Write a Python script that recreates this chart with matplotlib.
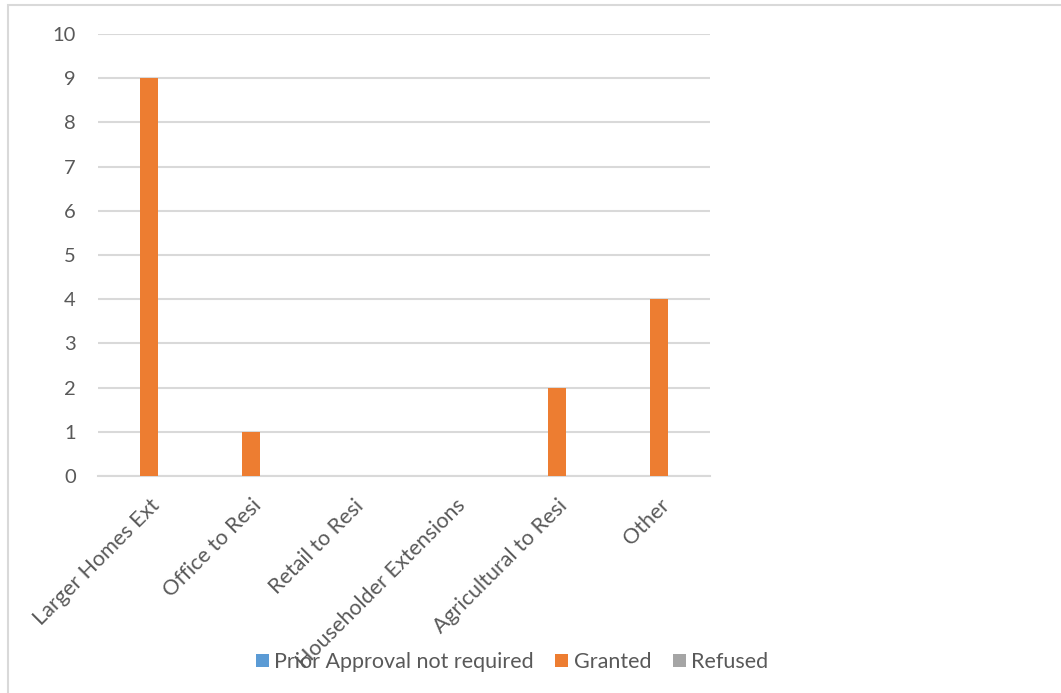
import numpy as np
import matplotlib.pyplot as plt
from matplotlib.patches import Rectangle

categories = ["Larger Homes Ext", "Office to Resi", "Retail to Resi",
              "Householder Extensions", "Agricultural to Resi", "Other"]
not_required = [0, 0, 0, 0, 0, 0]
granted = [9, 1, 0, 0, 2, 4]
refused = [0, 0, 0, 0, 0, 0]

plt.rcParams['font.family'] = ['Lato', 'DejaVu Sans']
txt = '#595959'
grid = '#d9d9d9'

W, H = 1061, 693
fig = plt.figure(figsize=(W/100, H/100), dpi=100)
ax = fig.add_axes([98/W, 1-476/H, (710-98)/W, (476-34)/H])

x = np.arange(len(categories))
w = 0.167
ax.bar(x - w, not_required, w, color='#5b9bd5', label='Prior Approval not required', zorder=3)
ax.bar(x, granted, w, color='#ed7d31', label='Granted', zorder=3)
ax.bar(x + w, refused, w, color='#a5a5a5', label='Refused', zorder=3)

ax.set_xlim(-0.5, len(categories) - 0.5)
ax.set_ylim(0, 10)
ax.set_yticks(range(0, 11))
ax.yaxis.grid(True, color=grid, linewidth=1.5)
ax.set_axisbelow(True)
for s in ['top', 'right', 'left']:
    ax.spines[s].set_visible(False)
ax.spines['bottom'].set_color(grid)
ax.spines['bottom'].set_linewidth(1.5)
ax.tick_params(length=0, colors=txt)
ax.tick_params(axis='y', pad=16, labelsize=14.5)
ax.set_xticks(x)
ax.set_xticklabels(categories, rotation=45, ha='right', rotation_mode='anchor', fontsize=15.5)
ax.tick_params(axis='x', pad=14)

leg = ax.legend(loc='center', bbox_to_anchor=(512/W, 1-662/H), bbox_transform=fig.transFigure,
                ncol=3, frameon=False, fontsize=15.5, handlelength=0.6, handleheight=0.6,
                handletextpad=0.25, columnspacing=1.0, labelcolor=txt)

fig.patches.append(Rectangle((8/W, -0.1), 1.2, 1-5/H+0.1, transform=fig.transFigure,
                             fill=False, edgecolor=grid, linewidth=1.5))

fig.savefig('out.png', dpi=100)
